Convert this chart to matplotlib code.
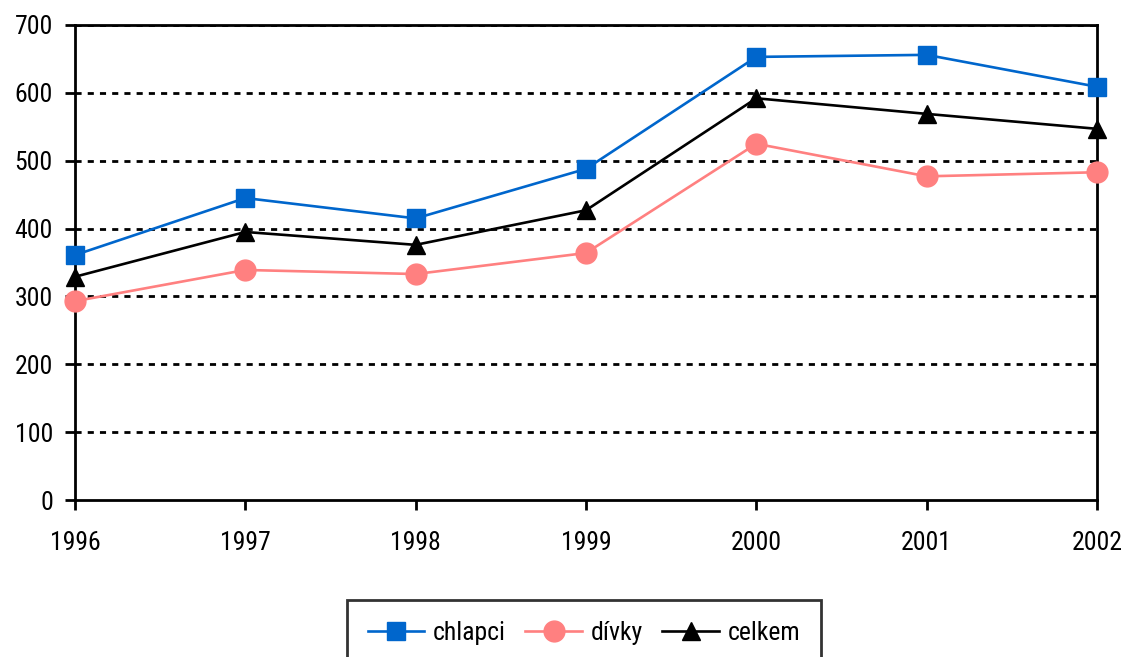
import matplotlib
matplotlib.use("Agg")
import matplotlib.pyplot as plt
from matplotlib import font_manager

years = [1996, 1997, 1998, 1999, 2000, 2001, 2002]
chlapci = [361, 445, 415, 488, 653, 656, 609]
divky = [293, 339, 333, 364, 525, 477, 483]
celkem = [329, 395, 376, 427, 592, 569, 547]
yticks = [0, 100, 200, 300, 400, 500, 600, 700]

names = {f.name for f in font_manager.fontManager.ttflist}
fam = [f for f in ["Roboto Condensed", "Archivo Narrow", "Liberation Sans", "DejaVu Sans"] if f in names]
plt.rcParams['font.family'] = fam
plt.rcParams['font.size'] = 18.5

fig = plt.figure(figsize=(11.27, 6.57), dpi=100)
ax = fig.add_axes([75/1127, 1-500/657, (1097-75)/1127, (500-25)/657])

for y in yticks[1:]:
    ax.axhline(y, color='black', lw=2.0, linestyle=(0, (2.2, 2.2)), zorder=1)

ax.plot(years, chlapci, color='#0066CC', lw=1.9, marker='s', markersize=13,
        label='chlapci', clip_on=False, zorder=3)
ax.plot(years, divky, color='#FF8080', lw=1.9, marker='o', markersize=15,
        label='dívky', clip_on=False, zorder=3)
ax.plot(years, celkem, color='black', lw=1.9, marker='^', markersize=13,
        label='celkem', clip_on=False, zorder=4)

ax.set_xlim(1996, 2002)
ax.set_ylim(0, 700)
ax.set_xticks(years)
ax.set_yticks(yticks)
for s in ax.spines.values():
    s.set_color('black')
    s.set_linewidth(2.0)
ax.tick_params(axis='both', direction='out', length=7, width=2.0, colors='black', labelsize=18.5)
ax.tick_params(axis='x', pad=15)
ax.tick_params(axis='y', pad=9)

leg = fig.legend(loc='upper center', bbox_to_anchor=(584/1127, 1-600/657), ncol=3,
                 frameon=True, fancybox=False, edgecolor='black', fontsize=18.5,
                 handlelength=2.2, columnspacing=0.75, handletextpad=0.35, borderpad=0.8,
                 borderaxespad=0)
leg.get_frame().set_linewidth(2.0)

fig.savefig("out.png", dpi=100)
